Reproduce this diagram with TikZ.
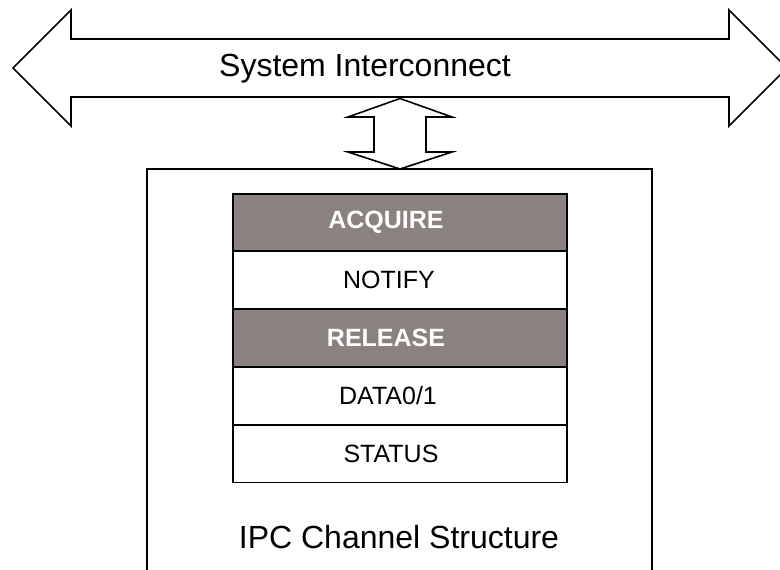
\documentclass[tikz,border=0pt]{standalone}
\usepackage{fontspec}
\setmainfont{Liberation Sans}
\definecolor{regfill}{RGB}{139,129,127}
\begin{document}
\begin{tikzpicture}[x=1pt,y=-1pt,
  outline/.style={draw=black,line width=1.6pt,line join=miter},
  regrow/.style={draw=black,line width=1.6pt,minimum width=334pt,minimum height=57.6pt,inner sep=0pt,fill=white},
  darkrow/.style={regrow,fill=regfill},
  rowtext/.style={inner sep=0pt,font=\fontsize{25}{30}\selectfont},
  darktext/.style={rowtext,text=white,font=\fontsize{25}{30}\selectfont\bfseries},
  bigtext/.style={font=\fontsize{32}{38}\selectfont,inner sep=0pt,anchor=base}]
\useasboundingbox (0,0) rectangle (780,570);
% system interconnect double arrow
\draw[outline] (13,68) -- (71,10) -- (71,39) -- (729,39) -- (729,10) -- (787,68)
  -- (729,126) -- (729,97) -- (71,97) -- (71,126) -- cycle;
\node[bigtext] (bus) at (365,76.5) {System Interconnect};
% small vertical double arrow
\draw[outline] (400,98.5) -- (452,117) -- (426,117) -- (426,152) -- (452,152) -- (400,169)
  -- (348,152) -- (374,152) -- (374,117) -- (348,117) -- cycle;
% outer box
\draw[outline] (147,580) -- (147,169) -- (652,169) -- (652,580);
% register rows
\node[darkrow] (acq) at (400,222.5) {};
\node[regrow] (notify) at (400,280) {};
\node[darkrow] (rel) at (400,338) {};
\node[regrow] (data) at (400,396) {};
\node[regrow] (status) at (400,453.5) {};
\node[darktext] (acqt) at ([xshift=-14pt]acq.center) {ACQUIRE};
\node[rowtext] (notifyt) at ([xshift=-11pt]notify.center) {NOTIFY};
\node[darktext] (relt) at ([xshift=-14pt]rel.center) {RELEASE};
\node[rowtext] (datat) at ([xshift=-12pt]data.center) {DATA0/1};
\node[rowtext] (statust) at ([xshift=-9pt]status.center) {STATUS};
\node[bigtext] (ipc) at (399,548) {IPC Channel Structure};
\end{tikzpicture}
\end{document}
